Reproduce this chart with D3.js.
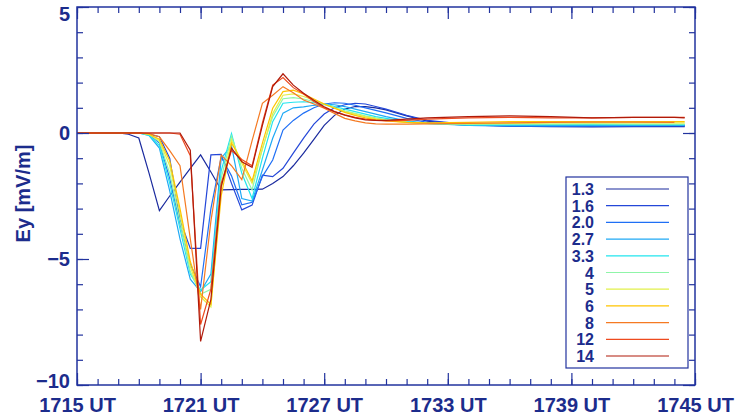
<!DOCTYPE html>
<html>
<head>
<meta charset="utf-8">
<script src="https://cdn.jsdelivr.net/npm/d3@7"></script>
<style>
  body { margin: 0; background: #fff; }
  text { font-family: "Liberation Sans", Arial, Helvetica, sans-serif; font-weight: bold; fill: #1c2c8c; }
</style>
</head>
<body>
<div id="chart"></div>
<script>
// time in minutes after 1700 UT
var times = [15, 17, 17.5, 18, 18.5, 19, 19.5, 20, 20.5, 21, 21.5, 22, 22.5, 23, 23.5, 24, 24.5, 25, 25.5, 26,
             26.5, 27, 27.5, 28, 28.5, 29, 29.5, 30, 31, 32, 34, 36, 38, 40, 42, 44, 44.5];

var labels = ["1.3", "1.6", "2.0", "2.7", "3.3", "4", "5", "6", "8", "12", "14"];
var colors = ["#1a2a9e", "#2447d8", "#1f6ff5", "#1fa9f5", "#22e5ee", "#8ff5a8", "#e2f04a", "#ffc400", "#f57a22", "#ee4a1e", "#b01a0a"];

var ey13 = [0, 0, -0.05, -0.2, -1.6, -3.08, -2.5, -1.95, -1.4, -0.87, -1.55, -2.26, -2.25, -2.24, -2.24, -2.23, -2.0, -1.73, -1.3, -0.8,
            -0.25, 0.3, 0.7, 0.95, 1.05, 1.05, 1.0, 0.92, 0.68, 0.47, 0.32, 0.27, 0.25, 0.24, 0.25, 0.25, 0.25];
var ey16 = [0, 0, 0, 0, -0.05, -0.15, -1.0, -3.45, -4.58, -4.58, -0.87, -0.85, -2.0, -3.05, -2.86, -1.67, -1.73, -1.4, -0.8, -0.2,
            0.35, 0.75, 1.0, 1.12, 1.18, 1.15, 1.05, 0.95, 0.7, 0.5, 0.33, 0.28, 0.27, 0.27, 0.28, 0.28, 0.28];
var ey20 = [0, 0, 0, 0, -0.05, -0.4, -1.8, -3.6, -5.2, -6.1, -3.0, -0.95, -1.7, -2.85, -2.75, -1.73, -1.07, 0.12, 0.5, 0.79,
            1.0, 1.15, 1.2, 1.18, 1.1, 1.0, 0.9, 0.8, 0.58, 0.42, 0.3, 0.28, 0.27, 0.27, 0.28, 0.29, 0.29];
var ey27 = [0, 0, 0, 0, -0.1, -0.6, -2.3, -4.2, -5.8, -6.3, -5.6, -1.0, -0.5, -2.6, -2.7, -1.47, -0.21, 0.79, 1.0, 1.04,
            1.1, 1.15, 1.12, 1.05, 0.95, 0.85, 0.75, 0.65, 0.48, 0.38, 0.3, 0.29, 0.29, 0.3, 0.3, 0.3, 0.3];
var ey33 = [0, 0, 0, 0, -0.1, -0.5, -2.0, -3.8, -5.6, -6.23, -5.9, -1.5, -0.02, -1.6, -2.6, -1.0, 0.45, 1.18, 1.22, 1.24,
            1.2, 1.15, 1.05, 0.95, 0.85, 0.75, 0.65, 0.58, 0.45, 0.38, 0.32, 0.32, 0.33, 0.33, 0.33, 0.33, 0.33];
var ey4 = [0, 0, 0, 0, -0.05, -0.35, -1.6, -3.5, -5.5, -6.4, -6.2, -1.8, -0.12, -1.4, -2.26, -0.6, 0.65, 1.36, 1.4, 1.35,
           1.25, 1.12, 1.0, 0.88, 0.78, 0.68, 0.6, 0.53, 0.43, 0.37, 0.34, 0.35, 0.35, 0.36, 0.35, 0.35, 0.35];
var ey5 = [0, 0, 0, 0, -0.05, -0.3, -1.3, -3.2, -5.3, -6.5, -6.9, -2.2, -0.28, -1.2, -2.0, -0.65, 0.77, 1.5, 1.55, 1.45,
           1.3, 1.15, 1.0, 0.85, 0.75, 0.65, 0.57, 0.5, 0.42, 0.38, 0.37, 0.38, 0.4, 0.4, 0.4, 0.4, 0.4];
var ey6 = [0, 0, 0, 0, -0.05, -0.25, -1.1, -3.0, -5.1, -6.4, -6.8, -2.5, -0.4, -1.1, -1.9, -0.4, 0.98, 1.64, 1.7, 1.55,
           1.35, 1.15, 0.98, 0.82, 0.7, 0.6, 0.53, 0.48, 0.42, 0.4, 0.42, 0.45, 0.45, 0.45, 0.45, 0.45, 0.45];
var ey8 = [0, 0, 0, 0, -0.02, -0.15, -0.7, -1.3, -4.2, -7.0, -3.5, -0.87, -1.3, -1.85, -0.3, 1.18, 1.5, 1.84, 1.6, 1.31,
           1.15, 0.98, 0.78, 0.58, 0.48, 0.4, 0.36, 0.35, 0.35, 0.36, 0.38, 0.4, 0.42, 0.43, 0.43, 0.42, null];
var ey12 = [0, 0, 0, 0, 0, 0, 0, -0.05, -0.9, -7.6, -6.2, -2.0, -0.7, -1.05, -1.3, 0.4, 1.9, 2.2, 1.8, 1.55,
            1.25, 1.0, 0.85, 0.72, 0.62, 0.55, 0.5, 0.48, 0.5, 0.55, 0.6, 0.62, 0.6, 0.6, 0.62, 0.62, 0.62];
var ey14 = [0, 0, 0, 0, 0, 0, 0, 0, -0.68, -8.27, -6.6, -2.13, -0.6, -1.14, -1.36, 0.3, 1.84, 2.35, 1.9, 1.58,
            1.3, 1.04, 0.85, 0.71, 0.6, 0.52, 0.5, 0.5, 0.55, 0.6, 0.65, 0.68, 0.65, 0.6, 0.62, 0.62, 0.6];

var series = [ey13, ey16, ey20, ey27, ey33, ey4, ey5, ey6, ey8, ey12, ey14];

var majorX = [15, 21, 27, 33, 39, 45];
var minorX = d3.range(15, 46, 1);
var majorY = [-10, -5, 0, 5];
var minorY = d3.range(-10, 6, 1);

var W = 736, H = 415;
var margin = {top: 7, right: 41, bottom: 30, left: 77};
var width = W - margin.left - margin.right,
    height = H - margin.top - margin.bottom;

var axisColor = "#22339e";

var svg = d3.select("#chart")
  .append("svg")
    .attr("width", W)
    .attr("height", H)
  .append("g")
    .attr("transform", "translate(" + margin.left + "," + margin.top + ")");

var x = d3.scaleLinear().domain([15, 45]).range([0, width]);
var y = d3.scaleLinear().domain([-10, 5]).range([height, 0]);

// data lines
var line = d3.line()
  .defined(function(d) { return d[1] != null; })
  .x(function(d) { return x(d[0]); })
  .y(function(d) { return y(d[1]); });

series.forEach(function(s, i) {
  svg.append("path")
    .datum(times.map(function(t, j) { return [t, s[j]]; }))
    .attr("fill", "none")
    .attr("stroke", colors[i])
    .attr("stroke-width", 1.2)
    .attr("stroke-linejoin", "miter")
    .attr("d", line);
});

function styleAxis(g) {
  g.select(".domain").remove();
  g.selectAll(".tick line").attr("stroke", axisColor).attr("stroke-width", 1.2);
  g.selectAll("text")
    .attr("fill", "#1c2c8c")
    .style("font-size", "20px")
    .style("font-weight", "bold");
}

// bottom axis
svg.append("g").attr("transform", "translate(0," + height + ")")
  .call(d3.axisBottom(x).tickValues(minorX).tickSize(-6).tickFormat(""))
  .call(styleAxis);
svg.append("g").attr("transform", "translate(0," + height + ")")
  .call(d3.axisBottom(x).tickValues(majorX).tickSize(-12).tickPadding(13)
    .tickFormat(function(d) { return (1700 + d) + " UT"; }))
  .call(styleAxis);

// top axis
svg.append("g")
  .call(d3.axisTop(x).tickValues(minorX).tickSize(-6).tickFormat(""))
  .call(styleAxis);
svg.append("g")
  .call(d3.axisTop(x).tickValues(majorX).tickSize(-12).tickFormat(""))
  .call(styleAxis);

// left axis
svg.append("g")
  .call(d3.axisLeft(y).tickValues(minorY).tickSize(-6).tickFormat(""))
  .call(styleAxis);
svg.append("g")
  .call(d3.axisLeft(y).tickValues(majorY).tickSize(-12).tickPadding(7).tickFormat(d3.format("d")))
  .call(styleAxis)
  .selectAll("text")
    .attr("y", function(d) { return d === 5 ? 7 : (d === -10 ? -4 : 0); });

// right axis
svg.append("g").attr("transform", "translate(" + width + ",0)")
  .call(d3.axisRight(y).tickValues(minorY).tickSize(-6).tickFormat(""))
  .call(styleAxis);
svg.append("g").attr("transform", "translate(" + width + ",0)")
  .call(d3.axisRight(y).tickValues(majorY).tickSize(-12).tickFormat(""))
  .call(styleAxis);

// frame
svg.append("rect")
  .attr("width", width)
  .attr("height", height)
  .attr("fill", "none")
  .attr("stroke", axisColor)
  .attr("stroke-width", 1.5);

// y label
svg.append("text")
  .attr("transform", "rotate(-90)")
  .attr("x", -(y(-2.4)))
  .attr("y", -margin.left + 30)
  .style("text-anchor", "middle")
  .style("font-size", "20px")
  .text("Ey [mV/m]");

// legend
var legend = svg.append("g").attr("transform", "translate(" + (566 - margin.left) + "," + (177 - margin.top) + ")");
legend.append("rect")
  .attr("width", 122)
  .attr("height", 191)
  .attr("fill", "#fff")
  .attr("stroke", axisColor)
  .attr("stroke-width", 1.2);

labels.forEach(function(lab, i) {
  var ly = 12 + i * 16.7;
  legend.append("text")
    .attr("x", 28)
    .attr("y", ly + 6)
    .style("text-anchor", "end")
    .style("font-size", "16px")
    .text(lab);
  legend.append("line")
    .attr("x1", 40).attr("x2", 103)
    .attr("y1", ly).attr("y2", ly)
    .attr("stroke", colors[i])
    .attr("stroke-width", 1.2);
});
</script>
</body>
</html>
